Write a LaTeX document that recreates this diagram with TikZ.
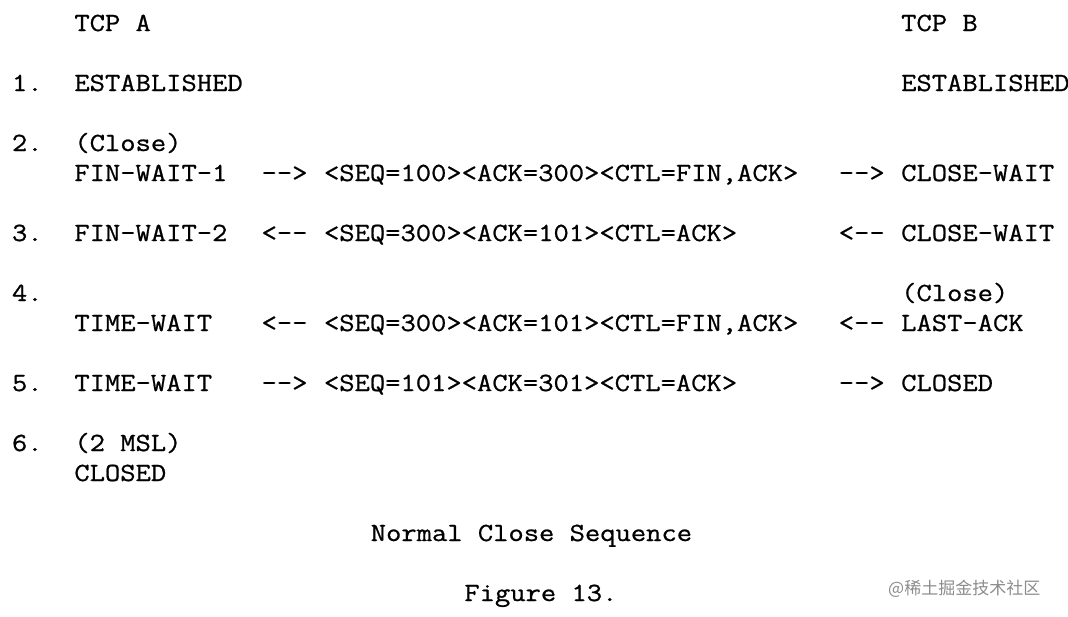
\documentclass[tikz,border=0pt]{standalone}
\usepackage{fontspec}
\newfontfamily\cour[FakeStretch=1.134,FakeBold=0.8]{Latin Modern Mono}
\newfontfamily\cjk{Noto Sans CJK SC}
\tikzset{
  mono/.style={anchor=base west, inner sep=0pt, outer sep=0pt, font=\cour\fontsize{26.2}{30}\selectfont, text=black},
  wmark/.style={anchor=base west, inner sep=0pt, font=\cjk\fontsize{17}{20}\selectfont, text=black!45}
}
% \T{name}{column}{row}{text}
\newcommand{\T}[4]{\node[mono] (#1) at ({12+15.6*#2},{-31-30*#3}) {#4};}
\begin{document}
\begin{tikzpicture}[x=1pt,y=1pt]
\useasboundingbox (0,0) rectangle (1068,-616);
\clip (0,0) rectangle (1068,-616);
\T{tcpa}{4}{0}{TCP A}
\T{tcpb}{57}{0}{TCP B}
\T{n1}{0}{2}{1.}
\T{esta}{4}{2}{ESTABLISHED}
\T{estb}{57}{2}{ESTABLISHED}
\T{n2}{0}{4}{2.}
\T{closea}{4}{4}{(Close)}
\T{fw1}{4}{5}{FIN-WAIT-1}
\T{ar2a}{16}{5}{-{}->}
\T{seg2}{20}{5}{<SEQ=100><ACK=300><CTL=FIN,ACK>}
\T{ar2b}{53}{5}{-{}->}
\T{cw2}{57}{5}{CLOSE-WAIT}
\T{n3}{0}{7}{3.}
\T{fw2}{4}{7}{FIN-WAIT-2}
\T{ar3a}{16}{7}{<-{}-}
\T{seg3}{20}{7}{<SEQ=300><ACK=101><CTL=ACK>}
\T{ar3b}{53}{7}{<-{}-}
\T{cw3}{57}{7}{CLOSE-WAIT}
\T{n4}{0}{9}{4.}
\T{closeb}{57}{9}{(Close)}
\T{tw4}{4}{10}{TIME-WAIT}
\T{ar4a}{16}{10}{<-{}-}
\T{seg4}{20}{10}{<SEQ=300><ACK=101><CTL=FIN,ACK>}
\T{ar4b}{53}{10}{<-{}-}
\T{la4}{57}{10}{LAST-ACK}
\T{n5}{0}{12}{5.}
\T{tw5}{4}{12}{TIME-WAIT}
\T{ar5a}{16}{12}{-{}->}
\T{seg5}{20}{12}{<SEQ=101><ACK=301><CTL=ACK>}
\T{ar5b}{53}{12}{-{}->}
\T{cl5}{57}{12}{CLOSED}
\T{n6}{0}{14}{6.}
\T{msl}{4}{14}{(2 MSL)}
\T{cl6}{4}{15}{CLOSED}
\T{title}{23}{17}{Normal Close Sequence}
\T{fig}{29}{19}{Figure 13.}
\node[wmark] (wm) at (888,-594) {@稀土掘金技术社区};
\end{tikzpicture}
\end{document}
